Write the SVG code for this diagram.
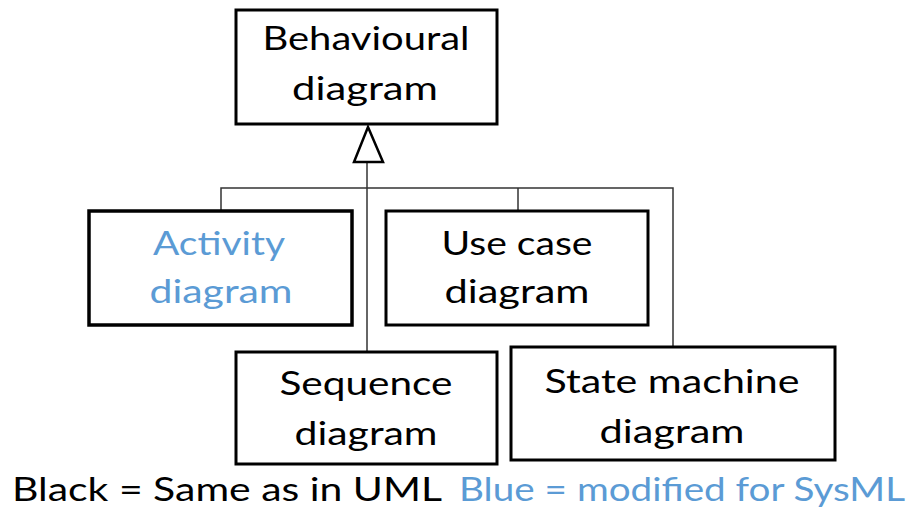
<svg xmlns="http://www.w3.org/2000/svg" width="912" height="511" viewBox="0 0 912 511">
<style>
.box{fill:#fff;stroke:#000;stroke-width:3}
.t{font-family:Lato,"Open Sans","Liberation Sans",sans-serif;font-size:33px;fill:#000;text-anchor:middle}
.blue{fill:#5B9BD5}
.conn{fill:none;stroke:#333;stroke-width:1.5}
.tri{fill:#fff;stroke:#000;stroke-width:2.5;stroke-linejoin:miter}
</style>
<rect width="912" height="511" fill="#fff"/>
<g id="connectors">
<polyline class="conn" points="221,211 221,188 673,188 673,347"/>
<line class="conn" x1="518" y1="188" x2="518" y2="211"/>
<line class="conn" x1="367" y1="162" x2="367" y2="352"/>
<polygon class="tri" points="368,127 383,162 354,162"/>
</g>
<g id="behavioural">
<rect class="box" x="236" y="10" width="261" height="114"/>
<text class="t" x="366" y="50" textLength="207" lengthAdjust="spacingAndGlyphs">Behavioural</text>
<text class="t" x="365" y="100" textLength="146" lengthAdjust="spacingAndGlyphs">diagram</text>
</g>
<g id="activity">
<rect class="box" x="89" y="211" width="263" height="114" style="stroke-width:3.5"/>
<text class="t blue" x="219" y="255" textLength="132" lengthAdjust="spacingAndGlyphs">Activity</text>
<text class="t blue" x="221" y="303" textLength="143" lengthAdjust="spacingAndGlyphs">diagram</text>
</g>
<g id="usecase">
<rect class="box" x="386" y="211" width="262" height="114"/>
<text class="t" x="517" y="255" textLength="151" lengthAdjust="spacingAndGlyphs">Use case</text>
<text class="t" x="517" y="303" textLength="145" lengthAdjust="spacingAndGlyphs">diagram</text>
</g>
<g id="sequence">
<rect class="box" x="236" y="352" width="261" height="112"/>
<text class="t" x="366" y="395" textLength="173" lengthAdjust="spacingAndGlyphs">Sequence</text>
<text class="t" x="366" y="445" textLength="143" lengthAdjust="spacingAndGlyphs">diagram</text>
</g>
<g id="statemachine">
<rect class="box" x="511" y="347" width="324" height="113"/>
<text class="t" x="672" y="393" textLength="255" lengthAdjust="spacingAndGlyphs">State machine</text>
<text class="t" x="672" y="443" textLength="145" lengthAdjust="spacingAndGlyphs">diagram</text>
</g>
<g id="legend">
<text class="t" x="12" y="501" style="text-anchor:start" textLength="430" lengthAdjust="spacingAndGlyphs">Black = Same as in UML</text>
<text class="t blue" x="459" y="501" style="text-anchor:start" textLength="446" lengthAdjust="spacingAndGlyphs">Blue = modified for SysML</text>
</g>
</svg>
